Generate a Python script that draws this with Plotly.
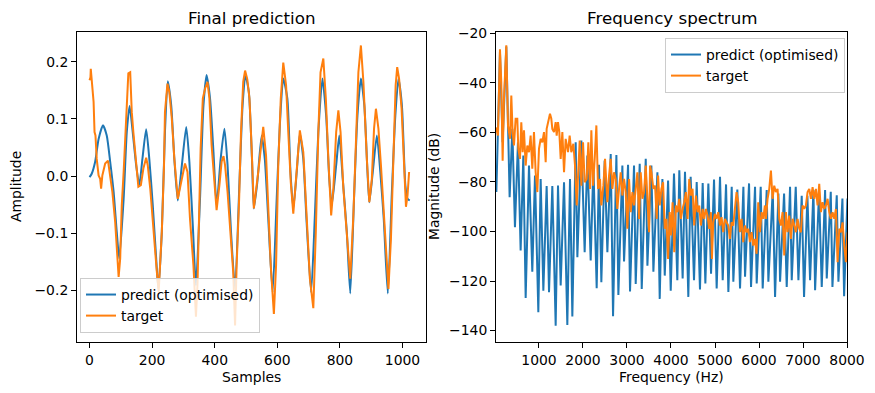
import plotly.graph_objects as go

# ---------------- Left panel: time-domain signals ----------------
pred_samples = [
    0, 7, 18, 29, 43, 55, 66, 77, 87, 95,
    109, 119, 128, 138, 149, 159, 169, 181, 191, 202,
    213, 220, 231, 241, 250, 261, 271, 282, 295, 309,
    319, 330, 340, 353, 364, 374, 385, 396, 406, 419,
    431, 441, 452, 465, 479, 489, 498, 509, 519, 525,
    536, 550, 560, 571, 585, 598, 608, 619, 632, 642,
    651, 662, 672, 683, 693, 708, 720, 731, 744, 756,
    766, 774, 788, 798, 809, 822, 833, 845, 856, 867,
    878, 888, 894, 905, 918, 929, 940, 953, 966, 977,
    987, 998, 1009, 1016, 1023]
pred_amp = [
    -0.002, 0.004, 0.025, 0.065, 0.089, 0.071, 0.025, -0.028, -0.098, -0.145,
    -0.040, 0.077, 0.123, 0.077, 0.019, -0.016, 0.030, 0.082, 0.030, -0.051,
    -0.145, -0.198, -0.098, 0.077, 0.166, 0.124, 0.030, -0.043, 0.019, 0.086,
    0.025, -0.087, -0.192, -0.040, 0.124, 0.177, 0.136, 0.042, -0.051, 0.030,
    0.083, 0.019, -0.098, -0.198, -0.011, 0.124, 0.177, 0.147, 0.030, -0.057,
    -0.011, 0.071, 0.030, -0.075, -0.204, -0.040, 0.089, 0.171, 0.136, 0.007,
    -0.057, 0.007, 0.074, 0.030, -0.075, -0.204, -0.069, 0.077, 0.171, 0.106,
    -0.005, -0.051, 0.019, 0.071, -0.005, -0.098, -0.206, -0.040, 0.106, 0.171,
    0.124, 0.007, -0.046, 0.007, 0.071, 0.007, -0.075, -0.206, -0.028, 0.106,
    0.171, 0.124, -0.016, -0.040, -0.043]

target_samples = [
    0, 3, 4, 7, 11, 13, 16, 19, 23, 29,
    34, 37, 41, 45, 50, 59, 66, 73, 82, 87,
    93, 98, 103, 109, 116, 121, 124, 130, 135, 140,
    149, 156, 164, 172, 181, 186, 194, 204, 215, 221,
    231, 238, 241, 249, 255, 263, 271, 282, 289, 298,
    305, 313, 321, 332, 338, 340, 345, 348, 355, 362,
    369, 377, 383, 390, 398, 406, 415, 422, 428, 433,
    441, 451, 459, 465, 470, 478, 484, 491, 497, 504,
    511, 518, 525, 539, 550, 555, 564, 571, 579, 589,
    596, 603, 611, 619, 628, 635, 643, 651, 662, 672,
    683, 694, 704, 715, 723, 731, 738, 747, 755, 763,
    772, 779, 788, 795, 802, 811, 822, 833, 843, 852,
    859, 867, 875, 886, 894, 902, 909, 915, 923, 931,
    939, 948, 955, 963, 971, 978, 983, 989, 997, 1005,
    1011, 1016, 1021]
target_amp = [
    0.168, 0.173, 0.188, 0.165, 0.147, 0.130, 0.077, 0.071, 0.030, 0.001,
    -0.005, -0.022, 0.001, 0.013, 0.022, 0.027, 0.001, -0.028, -0.081, -0.128,
    -0.177, -0.145, -0.052, 0.007, 0.100, 0.165, 0.180, 0.182, 0.112, 0.077,
    0.019, -0.019, -0.016, 0.013, 0.032, 0.019, -0.022, -0.098, -0.168, -0.203,
    -0.098, 0.019, 0.112, 0.162, 0.147, 0.100, 0.030, -0.040, -0.022, 0.007,
    0.022, 0.007, -0.075, -0.157, -0.210, -0.247, -0.190, -0.098, 0.048, 0.136,
    0.153, 0.165, 0.136, 0.054, -0.011, -0.060, -0.016, 0.025, 0.035, 0.019,
    -0.028, -0.098, -0.168, -0.262, -0.157, -0.040, 0.077, 0.165, 0.185, 0.170,
    0.136, 0.048, -0.057, 0.007, 0.060, 0.086, 0.036, -0.051, -0.157, -0.242,
    -0.157, 0.019, 0.136, 0.199, 0.159, 0.077, -0.011, -0.066, 0.007, 0.080,
    0.042, -0.063, -0.180, -0.232, -0.098, 0.077, 0.182, 0.206, 0.136, 0.030,
    -0.069, -0.022, 0.077, 0.115, 0.077, -0.022, -0.098, -0.180, -0.069, 0.077,
    0.182, 0.229, 0.165, 0.030, -0.046, -0.005, 0.083, 0.118, 0.083, 0.019,
    -0.051, -0.145, -0.198, -0.110, 0.019, 0.159, 0.191, 0.171, 0.118, 0.019,
    -0.054, -0.034, 0.007]

# ---------------- Right panel: spectra ----------------
pred_hz = [
    31, 68, 113, 174, 257, 333, 394, 454, 522, 583,
    644, 697, 773, 848, 909, 985, 1038, 1099, 1174, 1228,
    1303, 1379, 1432, 1493, 1569, 1644, 1705, 1758, 1834, 1872,
    1963, 2038, 2099, 2175, 2236, 2311, 2364, 2417, 2493, 2554,
    2630, 2683, 2759, 2804, 2895, 2933, 3024, 3069, 3160, 3198,
    3289, 3335, 3426, 3464, 3554, 3600, 3691, 3744, 3805, 3858,
    3934, 3994, 4068, 4144, 4189, 4265, 4318, 4394, 4447, 4523,
    4584, 4659, 4720, 4781, 4849, 4910, 4978, 5038, 5114, 5175,
    5251, 5304, 5380, 5417, 5508, 5569, 5645, 5683, 5774, 5819,
    5910, 5948, 6039, 6084, 6175, 6213, 6312, 6365, 6441, 6479,
    6570, 6630, 6706, 6744, 6835, 6896, 6971, 7024, 7100, 7161,
    7237, 7275, 7365, 7426, 7502, 7540, 7631, 7669, 7767, 7805,
    7896, 7934, 8010]
pred_db = [
    -84.1, -59.9, -27.6, -64.0, -25.4, -86.2, -58.6, -98.3, -64.0, -107.7,
    -69.3, -126.8, -73.4, -116.2, -77.4, -132.6, -78.8, -123.9, -81.7, -124.5,
    -81.7, -138.0, -81.5, -121.8, -80.1, -137.7, -78.8, -134.3, -64.0, -110.4,
    -63.3, -108.4, -69.3, -111.7, -73.4, -122.9, -73.1, -120.5, -71.4, -108.4,
    -68.7, -134.2, -69.1, -125.6, -73.4, -112.1, -73.1, -124.2, -73.4, -121.2,
    -72.7, -123.2, -70.7, -113.8, -73.4, -116.2, -76.1, -127.2, -78.8, -117.8,
    -79.4, -123.9, -76.6, -119.7, -75.3, -119.0, -75.9, -126.4, -77.9, -119.7,
    -80.0, -123.4, -80.4, -121.0, -80.6, -117.0, -79.0, -123.0, -77.9, -119.7,
    -81.0, -124.4, -82.0, -120.3, -83.1, -123.0, -82.0, -118.3, -80.6, -122.4,
    -82.0, -121.0, -82.0, -123.0, -83.3, -120.3, -83.3, -126.4, -84.7, -120.3,
    -84.7, -122.4, -82.0, -119.7, -82.0, -119.7, -85.6, -126.4, -85.6, -119.7,
    -83.3, -123.7, -84.0, -122.4, -83.3, -119.0, -84.0, -122.4, -85.4, -120.3,
    -86.7, -126.1, -86.7]

target_hz = [
    23, 68, 113, 143, 174, 204, 257, 295, 341, 371,
    401, 431, 469, 507, 530, 568, 598, 629, 659, 697,
    735, 773, 810, 848, 886, 924, 962, 1000, 1038, 1076,
    1114, 1152, 1174, 1205, 1250, 1280, 1303, 1341, 1379, 1402,
    1432, 1462, 1493, 1531, 1569, 1606, 1659, 1697, 1735, 1781,
    1819, 1857, 1887, 1925, 1963, 2001, 2038, 2084, 2122, 2160,
    2190, 2228, 2266, 2304, 2342, 2387, 2417, 2463, 2501, 2554,
    2592, 2630, 2668, 2706, 2743, 2781, 2819, 2857, 2895, 2933,
    2971, 3009, 3047, 3085, 3123, 3160, 3198, 3236, 3274, 3312,
    3350, 3388, 3426, 3464, 3502, 3524, 3554, 3600, 3638, 3676,
    3706, 3744, 3782, 3820, 3858, 3896, 3934, 3971, 3998, 4036,
    4074, 4112, 4149, 4187, 4225, 4263, 4301, 4339, 4377, 4415,
    4452, 4490, 4528, 4566, 4604, 4642, 4680, 4718, 4755, 4793,
    4831, 4869, 4907, 4930, 4960, 4998, 5036, 5074, 5112, 5149,
    5187, 5225, 5263, 5301, 5339, 5377, 5415, 5452, 5490, 5528,
    5566, 5604, 5642, 5680, 5718, 5755, 5793, 5831, 5869, 5907,
    5945, 5983, 6021, 6059, 6096, 6134, 6157, 6195, 6233, 6271,
    6308, 6346, 6384, 6422, 6460, 6498, 6536, 6574, 6612, 6649,
    6687, 6725, 6763, 6801, 6839, 6877, 6915, 6953, 6990, 7028,
    7066, 7104, 7142, 7180, 7218, 7256, 7293, 7331, 7369, 7407,
    7445, 7483, 7521, 7559, 7596, 7634, 7672, 7710, 7748, 7786,
    7824, 7862, 7899, 7937, 7975, 8013]
target_db = [
    -58.0, -61.3, -26.5, -39.7, -71.4, -46.5, -24.9, -57.2, -62.6, -45.1,
    -59.9, -65.3, -54.5, -54.5, -66.6, -70.7, -55.9, -68.0, -59.2, -73.4,
    -65.3, -68.0, -61.3, -74.7, -59.9, -76.1, -84.1, -66.6, -62.6, -64.0,
    -59.9, -72.0, -58.6, -55.9, -52.5, -54.5, -58.6, -59.9, -55.9, -61.3,
    -55.9, -59.9, -70.7, -59.9, -76.1, -62.6, -68.0, -61.3, -68.0, -64.6,
    -73.4, -89.5, -77.4, -63.3, -81.5, -64.0, -80.1, -78.8, -64.0, -82.8,
    -59.2, -81.5, -70.7, -57.2, -82.8, -78.8, -89.5, -81.5, -70.7, -88.2,
    -77.4, -70.7, -82.8, -76.1, -78.8, -90.9, -82.8, -76.1, -85.5, -78.8,
    -84.1, -98.9, -78.8, -92.2, -84.1, -89.5, -82.8, -76.1, -94.9, -76.1,
    -86.8, -84.1, -73.4, -86.8, -100.3, -73.4, -76.1, -82.8, -81.5, -94.9,
    -77.4, -89.5, -82.8, -80.1, -98.9, -94.9, -111.1, -92.2, -101.6, -88.2,
    -108.4, -89.5, -92.2, -86.8, -94.9, -90.9, -88.2, -84.1, -94.9, -78.8,
    -85.5, -82.8, -97.6, -85.5, -92.2, -89.5, -97.6, -90.9, -94.9, -90.9,
    -93.6, -99.0, -92.2, -111.1, -96.3, -92.9, -94.9, -92.2, -97.6, -94.2,
    -100.3, -94.9, -96.3, -97.6, -103.0, -96.3, -97.6, -89.5, -84.1, -88.2,
    -100.3, -94.9, -104.3, -97.6, -100.3, -98.9, -104.3, -100.3, -105.7, -103.0,
    -109.0, -88.2, -100.3, -92.2, -94.9, -89.5, -94.9, -86.8, -82.8, -75.4,
    -86.8, -81.5, -84.1, -82.8, -94.9, -97.6, -92.2, -109.7, -92.2, -100.3,
    -93.6, -103.0, -94.9, -97.6, -100.3, -94.9, -98.9, -100.3, -89.5, -90.9,
    -89.5, -84.1, -82.8, -86.8, -82.1, -86.8, -82.8, -89.5, -80.8, -92.2,
    -88.2, -90.9, -89.5, -86.8, -92.2, -94.9, -92.2, -94.9, -90.9, -112.4,
    -98.9, -100.3, -96.3, -105.7, -112.4, -100.3]

series_names = ["predict (optimised)", "target"]
blue = "#1f77b4"
orange = "#ff7f0e"
FONT = "DejaVu Sans"

W, H = 875, 393
OFF = 8  # page body margin offset of the plot div


def px_x(p):
    return (p - OFF) / W


def px_y(p):
    return 1 - (p - OFF) / H


fig = go.Figure()

fig.add_trace(go.Scatter(x=pred_samples, y=pred_amp, mode="lines", name=series_names[0],
                         line=dict(color=blue, width=2, shape="spline", smoothing=0.6),
                         xaxis="x", yaxis="y", legend="legend"))
fig.add_trace(go.Scatter(x=target_samples, y=target_amp, mode="lines", name=series_names[1],
                         line=dict(color=orange, width=2),
                         xaxis="x", yaxis="y", legend="legend"))
fig.add_trace(go.Scatter(x=pred_hz, y=pred_db, mode="lines", name=series_names[0],
                         line=dict(color=blue, width=2),
                         xaxis="x2", yaxis="y2", legend="legend2"))
fig.add_trace(go.Scatter(x=target_hz, y=target_db, mode="lines", name=series_names[1],
                         line=dict(color=orange, width=2),
                         xaxis="x2", yaxis="y2", legend="legend2"))

axis_common = dict(showline=True, mirror=True, linecolor="black", linewidth=1,
                   ticks="outside", ticklen=5, tickwidth=1, tickcolor="black",
                   showgrid=False, zeroline=False, automargin=False,
                   tickfont=dict(family=FONT, size=13.9, color="black"))

ydom = [px_y(342), px_y(32)]

fig.update_layout(
    width=W, height=H,
    margin=dict(l=0, r=0, t=0, b=0, autoexpand=False),
    paper_bgcolor="white", plot_bgcolor="white",
    font=dict(family=FONT, size=13.9, color="black"),
    xaxis=dict(domain=[px_x(77), px_x(426)], range=[-40, 1075],
               tickvals=[0, 200, 400, 600, 800, 1000], anchor="y", **axis_common),
    yaxis=dict(domain=ydom, range=[-0.2912, 0.2526],
               tickvals=[-0.2, -0.1, 0.0, 0.1, 0.2], tickformat=".1f", anchor="x", **axis_common),
    xaxis2=dict(domain=[px_x(496), px_x(847)], range=[23, 8000],
                tickvals=[1000, 2000, 3000, 4000, 5000, 6000, 7000, 8000], anchor="y2", **axis_common),
    yaxis2=dict(domain=ydom, range=[-144.6, -19.5],
                tickvals=[-140, -120, -100, -80, -60, -40, -20], anchor="x2", **axis_common),
    legend=dict(x=px_x(80), y=px_y(333), xanchor="left", yanchor="bottom",
                bgcolor="rgba(255,255,255,0.8)", bordercolor="#cccccc", borderwidth=1,
                font=dict(family=FONT, size=13.9, color="black"), itemwidth=30,
                tracegroupgap=0),
    legend2=dict(x=px_x(845), y=px_y(38), xanchor="right", yanchor="top",
                 bgcolor="rgba(255,255,255,0.8)", bordercolor="#cccccc", borderwidth=1,
                 font=dict(family=FONT, size=13.9, color="black"), itemwidth=30,
                 tracegroupgap=0),
    showlegend=True,
)

annots = [
    dict(text="Final prediction", x=(px_x(77) + px_x(426)) / 2, y=px_y(18), size=16.7, angle=0),
    dict(text="Frequency spectrum", x=(px_x(496) + px_x(847)) / 2, y=px_y(18), size=16.7, angle=0),
    dict(text="Samples", x=(px_x(77) + px_x(426)) / 2, y=px_y(377), size=13.9, angle=0),
    dict(text="Frequency (Hz)", x=(px_x(496) + px_x(847)) / 2, y=px_y(377), size=13.9, angle=0),
    dict(text="Amplitude", x=px_x(16), y=px_y(187), size=13.9, angle=-90),
    dict(text="Magnitude (dB)", x=px_x(434), y=px_y(187), size=13.9, angle=-90),
]
for a in annots:
    fig.add_annotation(text=a["text"], x=a["x"], y=a["y"], xref="paper", yref="paper",
                       xanchor="center", yanchor="middle", showarrow=False, textangle=a["angle"],
                       font=dict(family=FONT, size=a["size"], color="black"))

fig.write_html("out.html")
